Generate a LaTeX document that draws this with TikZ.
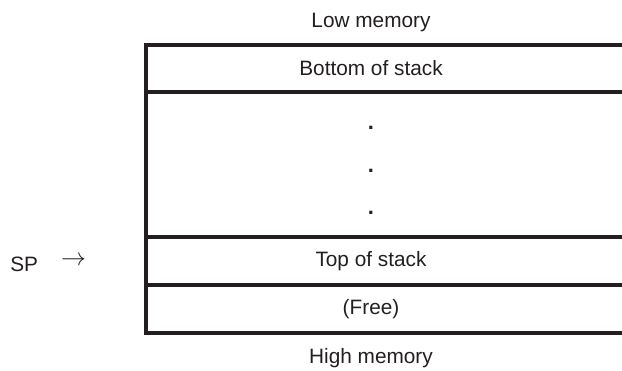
\documentclass[tikz,border=0pt]{standalone}
\usepackage{fontspec}
\setmainfont{Liberation Sans}
\usetikzlibrary{positioning}
\definecolor{memInk}{HTML}{231F20}

\begin{document}
\begin{tikzpicture}[x=1pt, y=-1pt,
  font=\fontsize{20.8}{24}\selectfont,
  cell/.style={minimum width=450pt, inner sep=0pt, outer sep=0pt, text=memInk},
  wall/.style={draw=memInk, line width=3.1pt},
  lbl/.style={text=memInk, inner sep=0pt, outer sep=0pt},
]
\clip (0,0) rectangle (622,370);

% stack cells, low memory at the top
\node[cell, minimum height=47pt] (bos) at (371,68.5) {Bottom of stack};
\node[cell, minimum height=145pt, below=0pt of bos] (dots) {};
\node[cell, minimum height=48pt, below=0pt of dots] (tos) {Top of stack};
\node[cell, minimum height=48pt, below=0pt of tos] (free) {(Free)};
\node[lbl, align=center, font=\fontsize{22}{42.5}\selectfont\bfseries]
  (ellip) at ([yshift=-6pt]dots.center) {.\\.\\.};

% end labels
\node[lbl, above=18pt of bos, anchor=base] (low) {Low memory};
\node[lbl, below=30pt of free, anchor=base] (high) {High memory};
\node[lbl, left=60pt of tos, font=\fontsize{24}{24}\selectfont] (arr) {$\rightarrow$};
\node[lbl, left=23pt of arr, anchor=base east, yshift=-10pt] (sp) {SP};

% outline, open to the right
\draw[wall] ([xshift=40pt]bos.north east) -- (bos.north west) -- (free.south west)
  -- ([xshift=40pt]free.south east);
\foreach \c in {bos,dots,tos}
  \draw[wall] (\c.south west) -- ([xshift=40pt]\c.south east);
\end{tikzpicture}
\end{document}
